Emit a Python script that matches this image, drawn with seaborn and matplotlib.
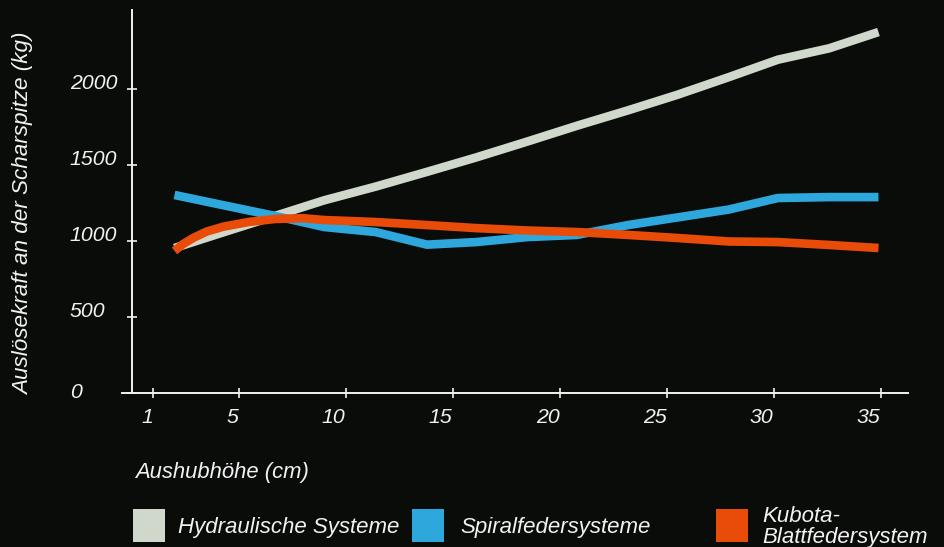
import pandas as pd
import matplotlib
matplotlib.use("Agg")
import matplotlib.pyplot as plt
import seaborn as sns
from matplotlib.patches import Rectangle

# data
x_pts = [2, 4.3, 6.7, 9, 11.4, 13.8, 16.1, 18.5, 20.8, 23.2, 25.5, 27.9, 30.2, 32.6, 34.9]
hydraulik = [954, 1058, 1165, 1268, 1358, 1455, 1550, 1655, 1758, 1860, 1962, 2078, 2193, 2268, 2375]
spiralfeder = [1303, 1235, 1165, 1092, 1059, 976, 993, 1026, 1040, 1105, 1155, 1207, 1283, 1289, 1289]
kubota_x = [2, 2.4, 2.9, 3.5, 4.3, 5.5, 6.7, 8, 9, 11.4, 13.8, 16.1, 18.5, 20.8, 23.2, 25.5, 27.9, 30.2, 32.6, 34.9]
kubota = [935, 980, 1022, 1062, 1095, 1126, 1145, 1150, 1138, 1125, 1105, 1085, 1069, 1059, 1040, 1020, 997, 993, 974, 954]

series_names = ["Hydraulische Systeme", "Spiralfedersysteme", "Kubota-\nBlattfedersystem"]
colors = ["#d0d8cc", "#2ea8dc", "#e84c08"]
x_ticks = [1, 5, 10, 15, 20, 25, 30, 35]
y_ticks = [0, 500, 1000, 1500, 2000]

df = pd.concat([
    pd.DataFrame({"x": x_pts, "y": hydraulik, "System": series_names[0]}),
    pd.DataFrame({"x": x_pts, "y": spiralfeder, "System": series_names[1]}),
    pd.DataFrame({"x": kubota_x, "y": kubota, "System": series_names[2]}),
])

bg = "#0a0c0a"
fg = "#f2f2f2"
sns.set_style("dark", {"axes.facecolor": bg, "figure.facecolor": bg})
plt.rcParams["font.family"] = ["Liberation Sans", "DejaVu Sans"]
plt.rcParams["font.style"] = "italic"

fig = plt.figure(figsize=(9.44, 5.47), dpi=100)
ax = fig.add_axes([122 / 944, 1 - 393 / 547, 786 / 944, 383 / 547])

sns.lineplot(data=df, x="x", y="y", hue="System", palette=colors, estimator=None,
             sort=False, linewidth=6.2, legend=False, ax=ax)
for line in ax.get_lines():
    line.set_solid_capstyle("butt")
    line.set_solid_joinstyle("round")

ax.set_xlim(-0.453, 36.28)
ax.set_ylim(0, 2520)
ax.grid(False)

for s in ["top", "right"]:
    ax.spines[s].set_visible(False)
for s in ["left", "bottom"]:
    ax.spines[s].set_color(fg)
    ax.spines[s].set_linewidth(1.4)
ax.spines["left"].set_position(("data", 0))

ax.set_xticks(x_ticks)
ax.set_yticks(y_ticks)
ax.tick_params(axis="both", colors=fg, direction="inout", length=7, width=1.2, labelsize=15.3,
               bottom=True, left=True)
ax.tick_params(axis="x", pad=7)
ax.tick_params(axis="y", pad=41)
for lab in ax.get_xticklabels():
    lab.set_ha("right")
for lab in ax.get_yticklabels():
    lab.set_ha("left")
    lab.set_va("baseline")
ax.get_yticklabels()[0].set_va("center")

ax.set_xlabel("Aushubhöhe (cm)", color=fg, fontsize=15.8, ha="left")
ax.xaxis.set_label_coords(0.0165, -0.18)
ax.set_ylabel("Auslösekraft an der Scharspitze (kg)", color=fg, fontsize=16.2, va="center")
ax.yaxis.set_label_coords(-0.125, 0.467)

# legend with square swatches
sw_x = [133, 412, 716]
tx_x = [178, 460, 762]
for name, col, sx, tx in zip(series_names, colors, sw_x, tx_x):
    fig.add_artist(Rectangle((sx / 944, 1 - 542 / 547), 32 / 944, 33 / 547,
                             transform=fig.transFigure, facecolor=col, edgecolor="none"))
    fig.text(tx / 944, 1 - 527 / 547, name, color=fg, fontsize=16, ha="left", va="center",
             linespacing=1.05)

fig.savefig("out.png", dpi=100, facecolor=bg)
